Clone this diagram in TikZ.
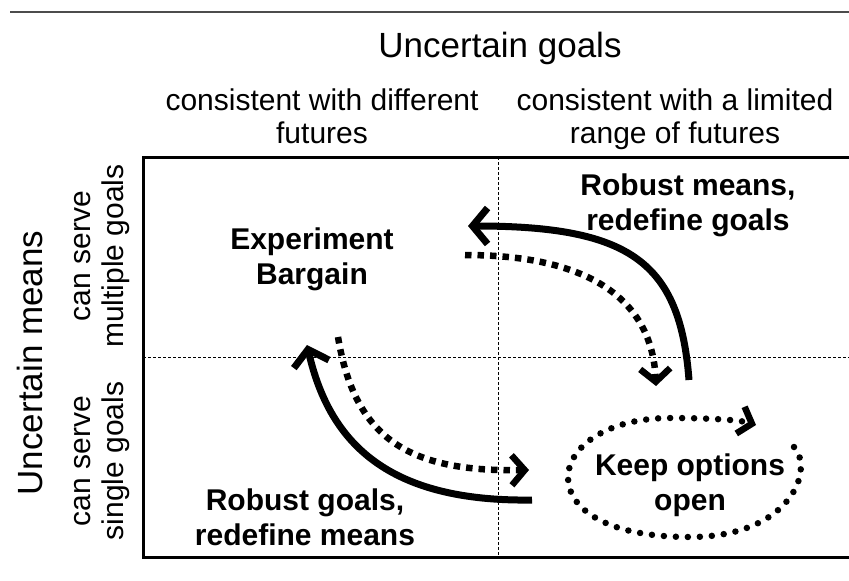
\documentclass[tikz,border=0pt]{standalone}
\usepackage{fontspec}
\setmainfont{Liberation Sans}
\usetikzlibrary{arrows.meta,positioning}

\tikzset{
  headfont/.style={font=\fontsize{35}{40}\selectfont, inner sep=0pt},
  subfont/.style={font=\fontsize{30}{33}\selectfont, align=center, inner sep=0pt},
  cellfont/.style={font=\fontsize{30}{35}\selectfont\bfseries, align=center, inner sep=0pt},
  gridline/.style={densely dashed, line width=0.8pt},
  solidarrow/.style={line width=7pt, -{Straight Barb[length=15pt,width=36pt]}},
  dotarrow/.style={line width=6.5pt, dash pattern=on 6.5pt off 6pt, -{Straight Barb[length=13pt,width=30pt]}},
  rounddots/.style={line width=6.5pt, line cap=round, dash pattern=on 0pt off 12pt, -{Straight Barb[length=12pt,width=28pt]}}
}

\begin{document}
\begin{tikzpicture}[x=1pt,y=-1pt]
    \useasboundingbox (0,0) rectangle (849,581);
    % Rule on top
    \draw[black!70, line width=1.5pt] (10,12) -- (849,12);

    % Headers
    \node[headfont] (goals) at (500,48) {Uncertain goals};
    \node[subfont] (diff) at (322,120) {\strut consistent with different\\\strut futures};
    \node[subfont] (limited) at (675,120) {\strut consistent with a limited\\\strut range of futures};
    \node[headfont, rotate=90] (means) at (30,363) {Uncertain means};
    \node[subfont, rotate=90] (multi) at (100,256) {\strut can serve\\\strut multiple goals};
    \node[subfont, rotate=90] (single) at (100,461) {\strut can serve\\\strut single goals};

    % Frame and grid
    \draw[line width=3pt] (849,157) -- (143,157) -- (143,557) -- (849,557);
    \draw[gridline] (498,157) -- (498,557);
    \draw[gridline] (143,357) -- (849,357);

    % Cells
    \node[cellfont] (exper) at (312,260) {\strut Experiment\\\strut Bargain};
    \node[cellfont] (rmeans) at (688,206) {\strut Robust means,\\\strut redefine goals};
    \node[cellfont] (rgoals) at (305,521) {\strut Robust goals,\\\strut redefine means};
    \node[cellfont] (keep) at (690,486) {\strut Keep options\\\strut open};

    % Arrows
    \coordinate (upS) at (689,380);
    \coordinate (upE) at (468,226);
    \draw[solidarrow] (upS) .. controls (680,262) and (630,226) .. (upE);
    \coordinate (dnS) at (465,255);
    \coordinate (dnE) at (656,386);
    \draw[dotarrow] (dnS) .. controls (590,255) and (652,300) .. (dnE);
    \coordinate (lfS) at (532,500);
    \coordinate (lfE) at (307,345);
    \draw[solidarrow] (lfS) .. controls (390,502) and (330,445) .. (lfE);
    \coordinate (rtS) at (338,337);
    \coordinate (rtE) at (529,470);
    \draw[dotarrow] (rtS) .. controls (355,440) and (410,472) .. (rtE);

    % Keep options open loop
    \coordinate (kpS) at (794,447);
    \coordinate (kpE) at (756,425);
    \draw[rounddots] (kpS) .. controls (815,470) and (790,537) .. (690,537)
        .. controls (600,537) and (568,505) .. (568,478)
        .. controls (568,445) and (610,418) .. (670,418)
        .. controls (710,418) and (740,420) .. (kpE);
\end{tikzpicture}
\end{document}
